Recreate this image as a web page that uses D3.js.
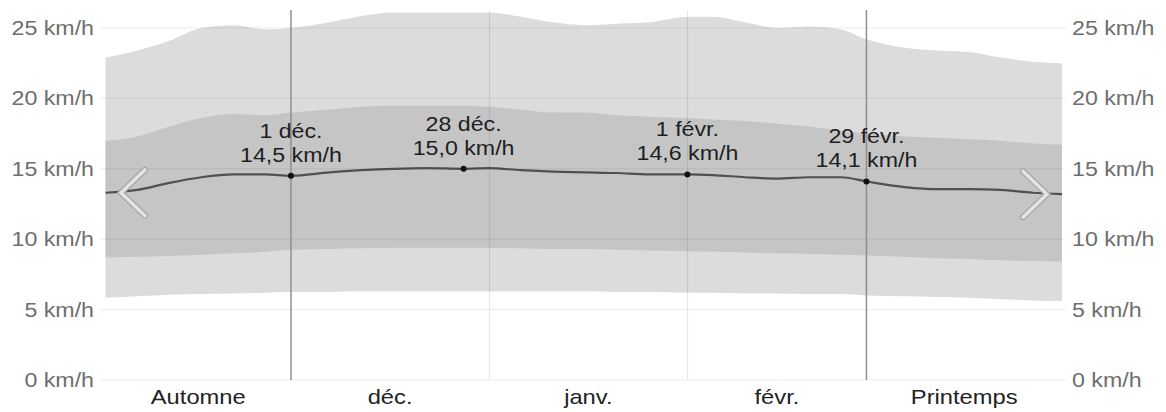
<!DOCTYPE html>
<html><head><meta charset="utf-8">
<script src="https://cdn.jsdelivr.net/npm/d3@7"></script>
<style>body{margin:0;background:#fff}svg{display:block;font-family:"Liberation Sans",Arial,sans-serif}</style>
</head><body><svg id="c" width="1166" height="412"></svg>
<script>
const dates = ["2023-11-02","2023-11-07","2023-11-12","2023-11-17","2023-11-22","2023-11-27","2023-12-01","2023-12-07","2023-12-12","2023-12-17","2023-12-22","2023-12-28","2024-01-01","2024-01-06","2024-01-11","2024-01-16","2024-01-21","2024-01-26","2024-02-01","2024-02-05","2024-02-10","2024-02-15","2024-02-20","2024-02-25","2024-02-29","2024-03-06","2024-03-11","2024-03-16","2024-03-21","2024-03-26","2024-03-31"];
const p90 = [22.9,23.4,24.1,25.0,25.2,24.9,25.0,25.4,25.85,26.1,26.1,26.1,26.1,25.8,25.4,25.2,25.3,25.4,25.8,25.8,25.4,25.0,25.1,24.9,24.2,23.6,23.4,23.3,22.9,22.6,22.5];
const p75 = [17.0,17.3,18.0,18.6,18.9,18.8,19.0,19.2,19.4,19.5,19.5,19.5,19.4,19.2,19.0,19.0,18.8,18.7,18.6,18.5,18.4,18.2,18.0,17.7,17.5,17.3,17.2,17.1,17.0,16.8,16.7];
const avg = [13.3,13.5,14.0,14.4,14.6,14.6,14.5,14.75,14.9,15.0,15.05,15.0,15.05,14.9,14.8,14.75,14.7,14.6,14.6,14.55,14.4,14.3,14.4,14.4,14.1,13.7,13.55,13.55,13.5,13.3,13.2];
const p25 = [8.7,8.75,8.8,8.9,9.0,9.1,9.25,9.3,9.35,9.4,9.4,9.4,9.4,9.35,9.3,9.3,9.25,9.2,9.15,9.1,9.05,9.0,8.95,8.9,8.85,8.75,8.65,8.6,8.5,8.45,8.4];
const p10 = [5.85,5.95,6.05,6.1,6.15,6.2,6.25,6.25,6.3,6.3,6.3,6.3,6.3,6.3,6.3,6.3,6.25,6.25,6.2,6.2,6.15,6.15,6.1,6.1,6.0,5.95,5.9,5.85,5.75,5.65,5.6];
const yTicks = [0,5,10,15,20,25];
const yTickLabels = ["0 km/h","5 km/h","10 km/h","15 km/h","20 km/h","25 km/h"];
const monthLines = ["2024-01-01","2024-02-01"];
const seasonLines = ["2023-12-01","2024-02-29"];
const segmentLabels = ["Automne","déc.","janv.","févr.","Printemps"];
const segmentBounds = ["2023-11-02","2023-12-01","2024-01-01","2024-02-01","2024-02-29","2024-03-31"];
const annDates = ["2023-12-01","2023-12-28","2024-02-01","2024-02-29"];
const annLabels = ["1 déc.","28 déc.","1 févr.","29 févr."];
const annValues = [14.5,15.0,14.6,14.1];
const annValueLabels = ["14,5 km/h","15,0 km/h","14,6 km/h","14,1 km/h"];

const P = d => new Date(d + "T00:00:00Z");
const L = 105, R = 1062;
const svg = d3.select("#c");
const x = d3.scaleUtc()
  .domain([new Date(Date.UTC(2023,10,1,22)), new Date(Date.UTC(2024,2,30,14))])
  .range([L, R]);
const y = d3.scaleLinear().domain([0,25]).range([380,28]);

const rows = dates.map((d,i)=>({t:P(d),p10:p10[i],p25:p25[i],avg:avg[i],p75:p75[i],p90:p90[i]}));

svg.append("defs").append("clipPath").attr("id","clip")
  .append("rect").attr("x",L).attr("y",0).attr("width",R-L).attr("height",412);

const plot = svg.append("g").attr("clip-path","url(#clip)");
const curve = d3.curveMonotoneX;
plot.append("path").datum(rows).attr("fill","#dcdcdc")
  .attr("d", d3.area().curve(curve).x(d=>x(d.t)).y0(d=>y(d.p10)).y1(d=>y(d.p90)));
plot.append("path").datum(rows).attr("fill","#c5c5c5")
  .attr("d", d3.area().curve(curve).x(d=>x(d.t)).y0(d=>y(d.p25)).y1(d=>y(d.p75)));

// horizontal grid
svg.append("g").selectAll("line").data(yTicks).join("line")
  .attr("x1",L-5).attr("x2",R+4).attr("y1",d=>y(d)).attr("y2",d=>y(d))
  .attr("stroke","rgba(0,0,0,0.07)").attr("stroke-width",1);

// month lines
svg.append("g").selectAll("line").data(monthLines).join("line")
  .attr("x1",d=>Math.round(x(P(d)))+0.5).attr("x2",d=>Math.round(x(P(d)))+0.5)
  .attr("y1",10).attr("y2",y(0))
  .attr("stroke","rgba(0,0,0,0.09)").attr("stroke-width",1.2);

// season lines
svg.append("g").selectAll("line").data(seasonLines).join("line")
  .attr("x1",d=>x(P(d))).attr("x2",d=>x(P(d)))
  .attr("y1",10).attr("y2",y(0))
  .attr("stroke","#8f8f8f").attr("stroke-width",1.5);

// chevrons
const first = rows[0], last = rows[rows.length-1];
const chev = (tipX, tipY, dir) => `M${tipX+dir*24},${tipY-23} L${tipX},${tipY} L${tipX+dir*24},${tipY+23}`;
const chevs = [[L+16, y(first.avg), 1],[R-15, y(last.avg), -1]];
const cg = svg.append("g");
cg.selectAll("path.o").data(chevs).join("path").attr("class","o")
  .attr("d",d=>chev(...d)).attr("fill","none").attr("stroke","#a6a6a6")
  .attr("stroke-width",6).attr("stroke-linecap","round").attr("stroke-linejoin","miter");
cg.selectAll("path.i").data(chevs).join("path").attr("class","i")
  .attr("d",d=>chev(...d)).attr("fill","none").attr("stroke","#e4e4e4")
  .attr("stroke-width",3.5).attr("stroke-linecap","round").attr("stroke-linejoin","miter");

// average line
plot.append("path").datum(rows).attr("fill","none").attr("stroke","#505050").attr("stroke-width",2.2)
  .attr("d", d3.line().curve(curve).x(d=>x(d.t)).y(d=>y(d.avg)));

// annotations
const ann = svg.append("g");
annDates.forEach((d,i)=>{
  const cx = x(P(d)), cy = y(annValues[i]);
  ann.append("circle").attr("cx",cx).attr("cy",cy).attr("r",3).attr("fill","#111");
  ann.append("text").attr("transform",`translate(${cx},${cy-38}) scale(1.16,1)`)
    .attr("text-anchor","middle").attr("font-size",20).attr("fill","#1e1e1e").text(annLabels[i]);
  ann.append("text").attr("transform",`translate(${cx},${cy-14}) scale(1.16,1)`)
    .attr("text-anchor","middle").attr("font-size",20).attr("fill","#1e1e1e").text(annValueLabels[i]);
});

// y labels
const yl = svg.append("g").attr("font-size",19.5).attr("fill","#6e6e6e");
yl.selectAll("text.l").data(yTicks).join("text").attr("class","l")
  .attr("transform",(d)=>`translate(94,${y(d)+7}) scale(1.19,1)`)
  .attr("text-anchor","end").text((d,i)=>yTickLabels[i]);
yl.selectAll("text.r").data(yTicks).join("text").attr("class","r")
  .attr("transform",(d)=>`translate(1072,${y(d)+7}) scale(1.19,1)`)
  .attr("text-anchor","start").text((d,i)=>yTickLabels[i]);

// x segment labels
svg.append("g").attr("font-size",21).attr("fill","#222").selectAll("text").data(segmentLabels).join("text")
  .attr("transform",(d,i)=>{
    const a = x(P(segmentBounds[i])), b = x(P(segmentBounds[i+1]));
    const cx = (Math.max(a,L)+Math.min(b,R))/2;
    return `translate(${cx},404) scale(1.13,1)`;
  })
  .attr("text-anchor","middle").text(d=>d);
</script></body></html>
